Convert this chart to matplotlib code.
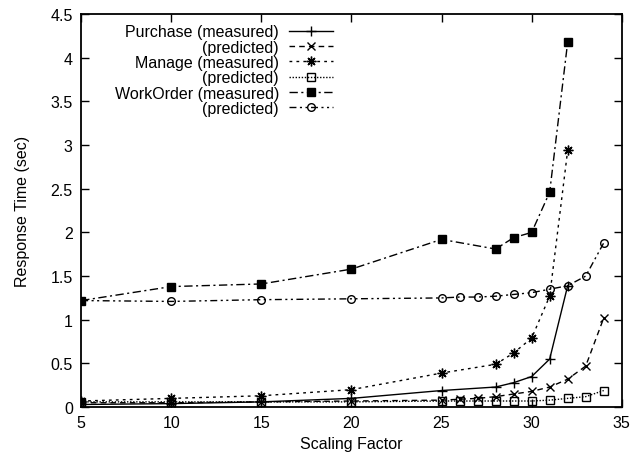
import matplotlib
matplotlib.use("Agg")
import matplotlib.pyplot as plt

plt.rcParams['font.family'] = ['Liberation Sans', 'DejaVu Sans']

x_meas = [5, 10, 15, 20, 25, 28, 29, 30, 31, 32]
x_pred = [5, 10, 15, 20, 25, 26, 27, 28, 29, 30, 31, 32, 33, 34]

purchase_meas = [0.03, 0.04, 0.06, 0.10, 0.19, 0.23, 0.28, 0.35, 0.55, 1.39]
purchase_pred = [0.05, 0.05, 0.06, 0.07, 0.08, 0.09, 0.10, 0.12, 0.15, 0.18, 0.23, 0.32, 0.47, 1.02]
manage_meas = [0.07, 0.10, 0.13, 0.20, 0.39, 0.49, 0.62, 0.79, 1.27, 2.94]
manage_pred = [0.06, 0.06, 0.06, 0.06, 0.07, 0.07, 0.07, 0.07, 0.07, 0.07, 0.08, 0.10, 0.12, 0.19]
workorder_meas = [1.22, 1.38, 1.41, 1.58, 1.92, 1.81, 1.94, 2.00, 2.46, 4.18]
workorder_pred = [1.22, 1.21, 1.23, 1.24, 1.25, 1.26, 1.26, 1.27, 1.29, 1.31, 1.35, 1.39, 1.50, 1.88]

labels = ["Purchase (measured)", "(predicted)", "Manage (measured)", "(predicted)",
          "WorkOrder (measured)", "(predicted)"]
x_ticks = [5, 10, 15, 20, 25, 30, 35]
y_ticks = [0, 0.5, 1, 1.5, 2, 2.5, 3, 3.5, 4, 4.5]
y_ticklabels = ["0", "0.5", "1", "1.5", "2", "2.5", "3", "3.5", "4", "4.5"]

fs = 11.5
fig = plt.figure(figsize=(6.39, 4.56), dpi=100)
ax = fig.add_axes([0.127, 0.105, 0.846, 0.862])

lw = 1.0
ax.plot(x_meas, purchase_meas, color='black', lw=lw, ls='-', marker='+', ms=7, mew=1.0, label=labels[0])
ax.plot(x_pred, purchase_pred, color='black', lw=lw, ls=(0, (4, 3)), marker='x', ms=5.5, mew=1.0, label=labels[1])
ax.plot(x_meas, manage_meas, color='black', lw=lw, ls=(0, (2, 3)), marker=(8, 2, 0), ms=7, mew=1.0, label=labels[2])
ax.plot(x_pred, manage_pred, color='black', lw=lw, ls=(0, (1, 1.2)), marker='s', ms=5.5, mfc='none', mew=1.0, label=labels[3])
ax.plot(x_meas, workorder_meas, color='black', lw=lw, ls=(0, (6, 2.5, 1.5, 2.5)), marker='s', ms=5.5, mfc='black', label=labels[4])
ax.plot(x_pred, workorder_pred, color='black', lw=lw, ls=(0, (5, 2.5, 1.5, 2.5, 1.5, 2.5)), marker='o', ms=5.5, mfc='none', mew=1.0, label=labels[5])

ax.set_xlim(5, 35)
ax.set_ylim(0, 4.5)
ax.set_xticks(x_ticks)
ax.set_yticks(y_ticks)
ax.set_yticklabels(y_ticklabels)
ax.tick_params(direction='in', length=6, width=1.0, top=True, right=True, labelsize=fs, pad=6)
for s in ax.spines.values():
    s.set_linewidth(1.3)

ax.set_xlabel("Scaling Factor", fontsize=fs, labelpad=4)
ax.set_ylabel("Response Time (sec)", fontsize=fs, labelpad=15)

leg = ax.legend(loc='upper left', markerfirst=False, frameon=False,
                fontsize=fs, handlelength=2.8, handletextpad=0.6, labelspacing=0.02,
                borderaxespad=0.2, borderpad=0.2)
leg.set_bbox_to_anchor((0.05, 0.99), transform=ax.transAxes)

fig.savefig("out.png", dpi=100)
